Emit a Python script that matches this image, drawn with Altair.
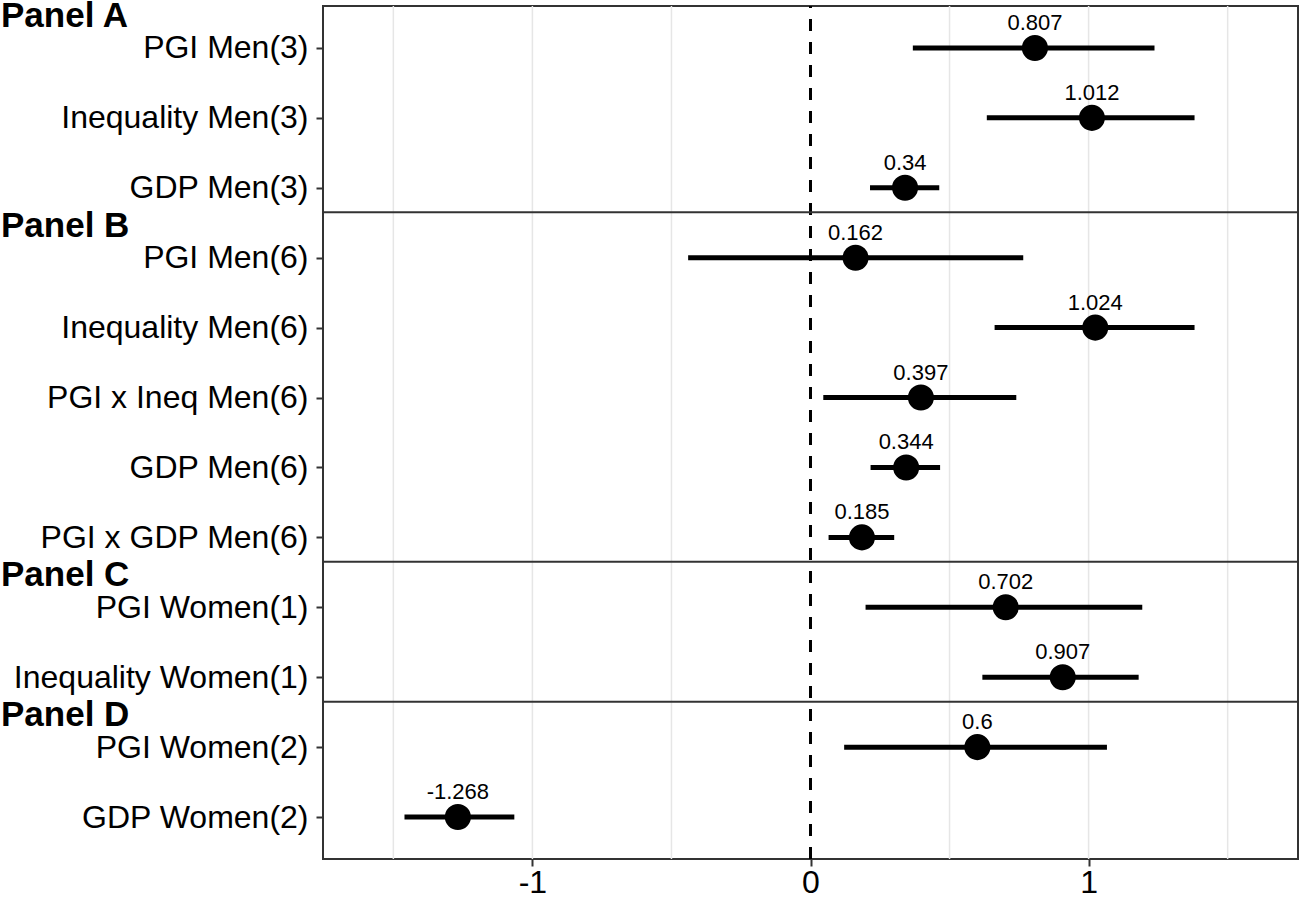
import altair as alt
import pandas as pd

# Coefficient estimates with their confidence intervals, top to bottom
terms = [
    "PGI Men(3)", "Inequality Men(3)", "GDP Men(3)",
    "PGI Men(6)", "Inequality Men(6)", "PGI x Ineq Men(6)", "GDP Men(6)", "PGI x GDP Men(6)",
    "PGI Women(1)", "Inequality Women(1)",
    "PGI Women(2)", "GDP Women(2)",
]
estimates = [0.807, 1.012, 0.34, 0.162, 1.024, 0.397, 0.344, 0.185, 0.702, 0.907, 0.6, -1.268]
lower = [0.368, 0.634, 0.214, -0.440, 0.662, 0.046, 0.216, 0.065, 0.198, 0.618, 0.121, -1.460]
upper = [1.237, 1.381, 0.463, 0.765, 1.381, 0.740, 0.466, 0.301, 1.193, 1.180, 1.066, -1.065]

# Panel headings and the row position they sit under
panel_names = ["Panel A", "Panel B", "Panel C", "Panel D"]
panel_first_row = [1, 4, 9, 11]

# Light vertical grid positions
grid_x = [-1.5, -1.0, -0.5, 0.5, 1.0, 1.5]
tick_x = [-1, 0, 1]

FONT = "Liberation Sans"
X_DOMAIN = [-1.753, 1.753]
Y_DOMAIN = [0.4, 12.6]

rows = list(range(1, len(terms) + 1))
coef = pd.DataFrame({
    "row": rows,
    "term": terms,
    "est": estimates,
    "lo": lower,
    "hi": upper,
    "label": [str(v) for v in estimates],
})
panels = pd.DataFrame({
    "name": panel_names,
    "sep": [r - 0.65 for r in panel_first_row],
    "ty": [r - 0.3 for r in panel_first_row],
})
grid = pd.DataFrame({"g": grid_x})

label_array = "[" + ", ".join("'" + t + "'" for t in terms) + "]"

x_scale = alt.Scale(domain=X_DOMAIN, nice=False, zero=False)
y_scale = alt.Scale(domain=Y_DOMAIN, reverse=True, nice=False, zero=False)

x_axis = alt.Axis(
    values=tick_x, title=None, grid=False, domain=False,
    labelExpr="'' + datum.value",
    labelFont=FONT, labelFontSize=32, labelColor="black",
    tickSize=7, tickWidth=2, tickColor="#333333", labelPadding=1,
)
y_axis = alt.Axis(
    values=rows, title=None, grid=False, domain=False,
    labelExpr=label_array + "[datum.value - 1]",
    labelFont=FONT, labelFontSize=32, labelColor="black", labelLimit=0,
    tickSize=7, tickWidth=2, tickColor="#333333", labelPadding=8,
)


def xq(field):
    return alt.X(field, type="quantitative", scale=x_scale, axis=x_axis)


def yq(field):
    return alt.Y(field, type="quantitative", scale=y_scale, axis=y_axis)


grid_layer = alt.Chart(grid).mark_rule(color="#E6E6E6", strokeWidth=1.5).encode(
    x=xq("g")
)

zero_line = alt.Chart(pd.DataFrame({"z": [0]})).mark_rule(
    color="black", strokeWidth=3, strokeDash=[12, 11]
).encode(x=xq("z"), y=alt.value(853), y2=alt.value(0))

separators = alt.Chart(panels.iloc[1:]).mark_rule(
    color="#333333", strokeWidth=2
).encode(y=yq("sep"), x=alt.value(0), x2=alt.value(975))

bars = alt.Chart(coef).mark_rule(color="black", strokeWidth=5).encode(
    x=xq("lo"), x2="hi", y=yq("row")
)

points = alt.Chart(coef).mark_point(
    filled=True, shape="circle", size=680, color="black", opacity=1
).encode(x=xq("est"), y=yq("row"))

values = alt.Chart(coef).mark_text(
    font=FONT, fontSize=22, color="black", baseline="alphabetic", align="center", dy=-18
).encode(x=xq("est"), y=yq("row"), text="label")

headings = alt.Chart(panels).mark_text(
    font=FONT, fontSize=35, fontWeight="bold", color="black",
    baseline="alphabetic", align="left"
).encode(x=alt.value(-322), y=yq("ty"), text="name")

chart = alt.layer(
    grid_layer, zero_line, separators, bars, points, values, headings
).properties(
    width=975,
    height=853,
    autosize=alt.AutoSizeParams(type="none"),
    padding={"left": 323, "top": 6, "right": 2, "bottom": 41},
    background="white",
).configure_view(
    stroke="#333333", strokeWidth=2
)

chart.save("out.html", embed_options={"renderer": "svg", "actions": False})
